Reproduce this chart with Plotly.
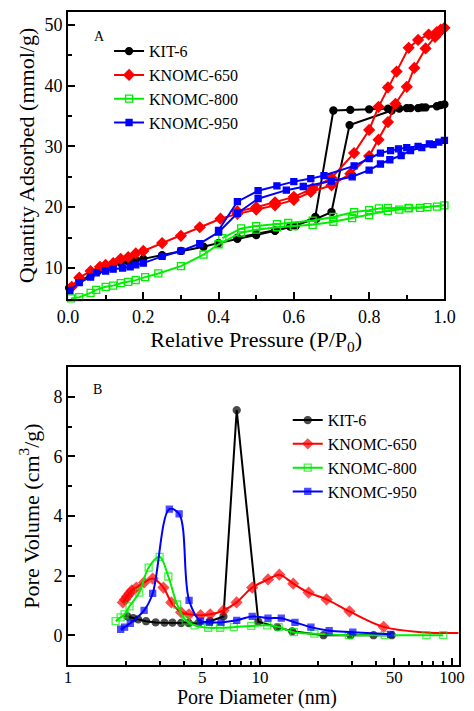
import plotly.graph_objects as go

# ---------------- Panel A: isotherms ----------------
kit_ads_p = [0.003, 0.03, 0.06, 0.08, 0.10, 0.12, 0.14, 0.16, 0.18, 0.20, 0.25, 0.30, 0.36, 0.40, 0.45, 0.50, 0.55, 0.59, 0.66, 0.70, 0.748, 0.86, 0.88, 0.91, 0.94, 0.98, 1.0]
kit_ads_q = [6.7, 8.0, 8.7, 9.5, 9.8, 10.5, 10.8, 11.1, 11.3, 11.5, 12.1, 12.8, 13.5, 14.1, 14.8, 15.4, 16.1, 16.8, 18.1, 19.2, 33.5, 35.9, 36.2, 36.3, 36.4, 36.6, 36.9]
kit_des_p = [0.99, 0.95, 0.93, 0.90, 0.85, 0.80, 0.75, 0.705, 0.657, 0.605, 0.55, 0.50, 0.45]
kit_des_q = [36.8, 36.4, 36.3, 36.3, 36.2, 36.1, 36.0, 35.9, 18.4, 16.9, 16.2, 15.6, 15.0]

k650_ads_p = [0.01, 0.03, 0.06, 0.085, 0.10, 0.12, 0.14, 0.16, 0.18, 0.20, 0.25, 0.30, 0.35, 0.405, 0.45, 0.50, 0.55, 0.60, 0.645, 0.70, 0.75, 0.80, 0.825, 0.85, 0.87, 0.90, 0.92, 0.95, 0.975, 0.985, 1.0]
k650_ads_q = [6.9, 8.4, 9.5, 10.2, 10.5, 10.8, 11.5, 11.8, 12.4, 12.8, 14.1, 15.3, 16.7, 18.1, 18.9, 19.6, 20.3, 21.2, 22.5, 23.6, 25.5, 28.4, 31.1, 34.0, 37.0, 39.8, 42.9, 46.1, 48.0, 48.7, 49.5]
k650_des_p = [0.99, 0.98, 0.958, 0.93, 0.905, 0.873, 0.85, 0.825, 0.80, 0.76, 0.70, 0.65, 0.60, 0.55, 0.50, 0.45]
k650_des_q = [49.2, 48.8, 48.4, 47.5, 46.2, 42.3, 39.7, 36.5, 32.7, 28.9, 24.8, 23.1, 21.7, 20.8, 20.0, 19.3]

k800_ads_p = [0.008, 0.03, 0.06, 0.075, 0.10, 0.12, 0.14, 0.16, 0.18, 0.205, 0.24, 0.30, 0.36, 0.40, 0.46, 0.50, 0.555, 0.60, 0.65, 0.705, 0.755, 0.80, 0.85, 0.88, 0.905, 0.935, 0.98, 1.0]
k800_ads_q = [5.0, 5.2, 5.9, 6.4, 6.9, 7.1, 7.5, 7.7, 8.0, 8.5, 9.1, 10.3, 12.2, 13.9, 15.8, 16.3, 16.7, 16.9, 17.1, 17.6, 18.2, 18.7, 19.4, 19.6, 19.8, 19.9, 20.1, 20.3]
k800_des_p = [0.955, 0.905, 0.85, 0.826, 0.80, 0.76, 0.705, 0.65, 0.585, 0.555, 0.50, 0.46, 0.41]
k800_des_q = [20.0, 19.9, 19.9, 19.8, 19.5, 19.2, 18.4, 17.8, 17.4, 17.2, 16.9, 16.5, 14.9]

k950_ads_p = [0.005, 0.03, 0.06, 0.075, 0.10, 0.12, 0.145, 0.165, 0.18, 0.20, 0.25, 0.30, 0.35, 0.40, 0.45, 0.505, 0.58, 0.625, 0.70, 0.755, 0.80, 0.83, 0.855, 0.885, 0.91, 0.94, 0.97, 1.0]
k950_ads_q = [6.3, 7.6, 8.5, 9.2, 9.5, 9.8, 10.0, 10.2, 10.5, 10.8, 11.9, 12.8, 14.0, 15.9, 19.0, 21.4, 22.8, 23.4, 24.3, 25.0, 26.1, 27.1, 27.8, 28.5, 29.3, 29.8, 30.3, 31.0]
k950_des_p = [0.985, 0.96, 0.93, 0.90, 0.878, 0.857, 0.83, 0.80, 0.76, 0.68, 0.645, 0.60, 0.555, 0.505, 0.45, 0.40]
k950_des_q = [30.7, 30.4, 30.0, 29.8, 29.6, 29.3, 28.9, 28.0, 26.8, 25.2, 24.7, 24.2, 23.5, 22.7, 20.9, 16.2]

# ---------------- Panel B: pore size distributions ----------------
kit_d = [2.04, 2.19, 2.32, 2.55, 2.86, 3.18, 3.5, 3.88, 4.25, 4.78, 5.5, 6.45, 7.56, 9.8, 12.3, 14.7, 21.4, 29.6, 39.0, 48.5]
kit_v = [0.63, 0.57, 0.53, 0.47, 0.43, 0.42, 0.42, 0.41, 0.41, 0.41, 0.47, 0.63, 7.55, 0.45, 0.27, 0.13, 0.0, 0.0, 0.0, 0.0]

k650_d = [1.93, 1.98, 2.03, 2.09, 2.15, 2.27, 2.49, 2.76, 3.14, 3.45, 3.88, 4.27, 4.9, 5.5, 6.45, 7.55, 9.1, 11.0, 12.6, 14.9, 17.9, 22.2, 29.2, 44.0, 70.0, 108.0]
k650_v = [1.1, 1.2, 1.3, 1.4, 1.5, 1.6, 1.77, 1.9, 1.6, 1.1, 0.77, 0.7, 0.67, 0.7, 0.83, 1.1, 1.6, 1.87, 2.03, 1.73, 1.43, 1.2, 0.8, 0.28, 0.1, 0.07]

k800_d = [1.77, 1.88, 1.97, 2.09, 2.35, 2.63, 3.0, 3.33, 3.7, 4.1, 4.56, 5.37, 6.2, 7.3, 9.0, 10.9, 12.5, 15.0, 19.2, 29.0, 44.6, 73.5, 90.0]
k800_v = [0.47, 0.6, 0.7, 0.97, 1.43, 2.27, 2.63, 1.97, 1.03, 0.5, 0.33, 0.25, 0.25, 0.27, 0.31, 0.33, 0.27, 0.1, 0.05, 0.0, 0.0, 0.0, 0.0]

k950_d = [1.88, 1.97, 2.11, 2.49, 2.76, 3.37, 3.79, 4.27, 4.9, 5.45, 6.26, 7.56, 9.1, 11.0, 12.9, 15.2, 18.4, 22.9, 30.4, 47.9]
k950_v = [0.2, 0.27, 0.4, 0.83, 1.4, 4.23, 4.07, 1.17, 0.47, 0.43, 0.43, 0.5, 0.63, 0.57, 0.57, 0.43, 0.27, 0.15, 0.1, 0.03]

names = ["KIT-6", "KNOMC-650", "KNOMC-800", "KNOMC-950"]
colors = ["#000000", "#FF0000", "#00EE00", "#0000FF"]
symbols = ["circle", "diamond", "square-open", "square"]
msizes = [7, 8, 7, 6]

FONT = "Liberation Serif, Times New Roman, serif"
fig = go.Figure()

iso = [(kit_ads_p, kit_ads_q, kit_des_p, kit_des_q),
       (k650_ads_p, k650_ads_q, k650_des_p, k650_des_q),
       (k800_ads_p, k800_ads_q, k800_des_p, k800_des_q),
       (k950_ads_p, k950_ads_q, k950_des_p, k950_des_q)]

for i, (ap, aq, dp, dq) in enumerate(iso):
    mk = dict(symbol=symbols[i], size=msizes[i], color=colors[i],
              line=dict(color=colors[i], width=1.3))
    fig.add_trace(go.Scatter(x=ap, y=aq, mode="lines+markers", name=names[i],
                             line=dict(color=colors[i], width=2), marker=mk,
                             legendgroup="a" + str(i), xaxis="x", yaxis="y",
                             legend="legend", cliponaxis=False))
    fig.add_trace(go.Scatter(x=dp, y=dq, mode="lines+markers", name=names[i],
                             line=dict(color=colors[i], width=2), marker=mk,
                             legendgroup="a" + str(i), showlegend=False,
                             xaxis="x", yaxis="y", cliponaxis=False))

psd = [(kit_d, kit_v, "linear"), (k650_d, k650_v, "spline"),
       (k800_d, k800_v, "spline"), (k950_d, k950_v, "spline")]
for i, (d, v, shape) in enumerate(psd):
    sizes = [msizes[i]] * len(d)
    if i == 1:
        sizes[-2] = 0
        sizes[-1] = 0
    mk = dict(symbol=symbols[i], size=sizes, color=colors[i],
              line=dict(color=colors[i], width=1.3))
    fig.add_trace(go.Scatter(x=d, y=v, mode="lines+markers", name=names[i],
                             line=dict(color=colors[i], width=2, shape=shape, smoothing=1),
                             marker=mk, xaxis="x2", yaxis="y2", legend="legend2"))

axis_common = dict(showline=True, linecolor="black", linewidth=2, mirror=True,
                   ticks="inside", ticklen=7, tickwidth=1.5, tickcolor="black",
                   showgrid=False, zeroline=False)
tf18 = dict(family=FONT, size=18, color="black")
tf17 = dict(family=FONT, size=17, color="black")

fig.update_layout(
    width=474, height=711,
    margin=dict(l=68, r=4, t=12, b=46),
    paper_bgcolor="white", plot_bgcolor="white",
    font=dict(family=FONT, color="black"),
    xaxis=dict(domain=[0, 0.9627], anchor="y", range=[0, 1.0],
               tickvals=[0, 0.2, 0.4, 0.6, 0.8, 1.0],
               ticktext=["0.0", "0.2", "0.4", "0.6", "0.8", "1.0"],
               minor=dict(tickvals=[0.1, 0.3, 0.5, 0.7, 0.9], ticks="inside", ticklen=4, tickcolor="black"),
               title=dict(text="Relative Pressure (P/P<sub>0</sub>)", font=dict(family=FONT, size=22), standoff=6),
               tickfont=tf18, **axis_common),
    yaxis=dict(domain=[0.5605, 1.0], anchor="x", range=[4.9, 52.1],
               tickvals=[10, 20, 30, 40, 50],
               minor=dict(tickvals=[15, 25, 35, 45], ticks="inside", ticklen=4, tickcolor="black"),
               title=dict(text="Quantity Adsorbed (mmol/g)", font=dict(family=FONT, size=22), standoff=4),
               tickfont=tf18, **axis_common),
    xaxis2=dict(domain=[0, 1.0], anchor="y2", type="log", range=[0, 2.036],
                tickvals=[1, 5, 10, 50, 100], ticktext=["1", "5", "10", "50", "100"],
                minor=dict(tickvals=[2, 3, 4, 6, 7, 8, 9, 20, 30, 40, 60, 70, 80, 90],
                           ticks="inside", ticklen=4, tickcolor="black"),
                ticklabelstandoff=-4,
                tickfont=tf17, **axis_common),
    yaxis2=dict(domain=[0, 0.4564], anchor="x2", range=[-1, 9],
                tickvals=[0, 2, 4, 6, 8],
                minor=dict(tickvals=[1, 3, 5, 7], ticks="inside", ticklen=4, tickcolor="black"),
                title=dict(text="Pore Volume (cm<sup>3</sup>/g)", font=dict(family=FONT, size=22), standoff=8),
                tickfont=tf18, **axis_common),
    legend=dict(x=0.105, y=0.966, xanchor="left", yanchor="top",
                bgcolor="rgba(0,0,0,0)", font=dict(family=FONT, size=16),
                tracegroupgap=0, itemwidth=30),
    legend2=dict(x=0.562, y=0.401, xanchor="left", yanchor="top",
                 bgcolor="rgba(0,0,0,0)", font=dict(family=FONT, size=16),
                 tracegroupgap=0, itemwidth=30),
    annotations=[
        dict(text="A", xref="x domain", yref="y domain", x=0.065, y=0.948,
             showarrow=False, font=dict(family=FONT, size=14)),
        dict(text="B", xref="x2 domain", yref="y2 domain", x=0.06, y=0.956,
             showarrow=False, font=dict(family=FONT, size=14)),
        dict(text="Pore Diameter (nm)", xref="paper", yref="paper",
             x=0.483, y=-0.0498, xanchor="center", yanchor="middle", borderpad=0,
             showarrow=False, font=dict(family=FONT, size=20)),
    ],
)

fig.write_html("out.html", config={"displayModeBar": False},
               post_script="document.body.style.margin='0px';document.body.style.overflow='hidden';")
